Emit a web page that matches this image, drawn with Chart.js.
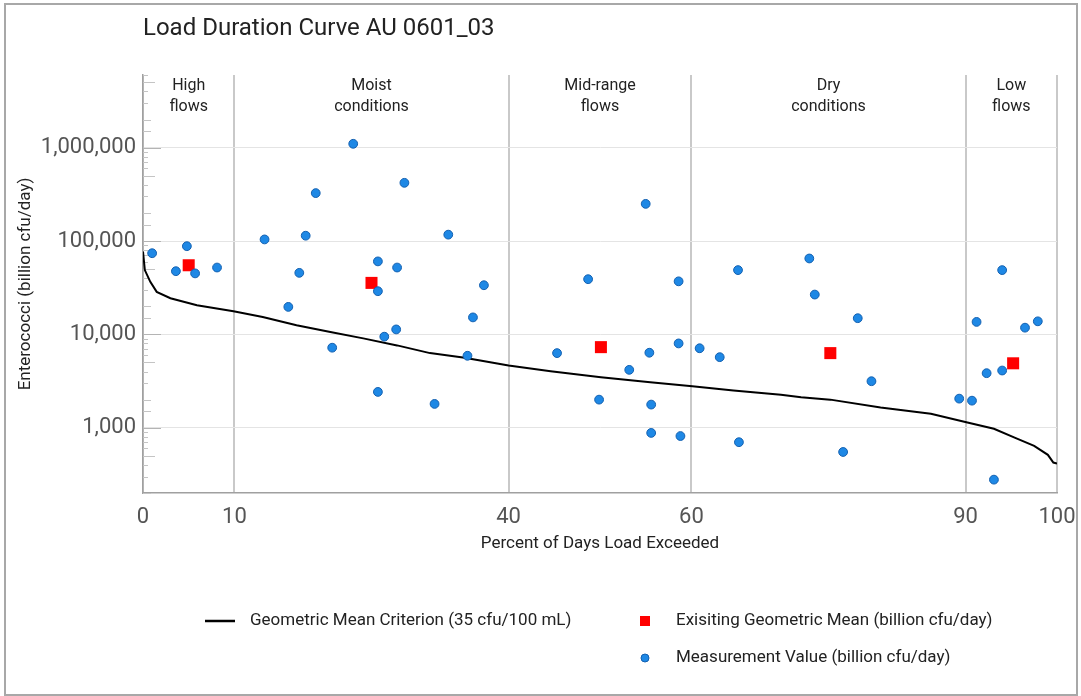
<!DOCTYPE html>
<html>
<head>
<meta charset="utf-8">
<title>Load Duration Curve AU 0601_03</title>
<script src="https://cdn.jsdelivr.net/npm/chart.js@4.4.1/dist/chart.umd.min.js"></script>
<style>
  html, body { margin: 0; padding: 0; background: #fff; }
  #wrap { position: relative; width: 1081px; height: 696px; }
  #frame { position: absolute; left: 4px; top: 3px; width: 1070px; height: 689px;
           border: 2px solid #a8a8a8; pointer-events: none; }
</style>
</head>
<body>
<div id="wrap">
  <canvas id="ldc" width="1081" height="696"></canvas>
  <div id="frame"></div>
</div>
<script>
// Flow-duration zones (percent of days exceeded) and their labels.
const zoneBreaks = [0, 10, 40, 60, 90, 100];
const zoneLabels = [["High", "flows"], ["Moist", "conditions"], ["Mid-range", "flows"],
                    ["Dry", "conditions"], ["Low", "flows"]];

// Allowable load curve (geometric mean criterion).
const curvePct  = [0, 0.2, 0.8, 1.5, 3, 5.9, 9.9, 13.1, 16.8, 20.5, 24.1, 27.8, 31.4, 35, 36.9,
                   40, 44.6, 50.1, 55.5, 60.1, 64.6, 69.8, 72, 75.2, 80.7, 86.2, 90.2, 93.1,
                   95.3, 97.5, 99, 99.6, 100];
const curveLoad = [77000, 48800, 36500, 28500, 24400, 20500, 17700, 15350, 12500, 10600, 9060,
                   7620, 6300, 5660, 5250, 4640, 4030, 3470, 3070, 2780, 2500, 2260, 2120, 2000,
                   1650, 1415, 1140, 975, 787, 640, 513, 424, 414];

// Existing geometric mean per zone.
const gmPct  = [5, 25, 50.1, 75.2, 95.2];
const gmLoad = [55000, 35600, 7300, 6300, 4900];

// Individual measurements.
const measPct  = [1.0, 3.6, 4.8, 5.7, 8.1, 13.3, 15.9, 17.1, 17.8, 18.9, 20.7, 23.0, 25.7, 25.7,
                  25.7, 26.4, 27.7, 27.8, 28.6, 31.9, 33.4, 35.5, 36.1, 37.3, 45.3, 48.7, 49.9,
                  53.2, 55.0, 55.4, 55.6, 55.6, 58.6, 58.6, 58.8, 60.9, 63.1, 65.1, 65.2, 72.9,
                  73.5, 76.6, 78.2, 79.7, 89.3, 90.7, 91.2, 92.3, 93.1, 94.0, 94.0, 96.5, 97.9];
const measLoad = [74000, 47500, 88000, 45000, 52000, 104000, 19700, 45600, 114000, 326000, 7200,
                  1100000, 60500, 29000, 2420, 9450, 11300, 52000, 420000, 1800, 117000, 5900,
                  15200, 33600, 6300, 39000, 2000, 4170, 250000, 6360, 1770, 880, 37000, 8000,
                  815, 7100, 5700, 48800, 700, 65000, 26700, 550, 14900, 3150, 2050, 1950, 13600,
                  3840, 278, 4100, 48800, 11800, 13800];

const FONT = "Roboto";
const INK = "#222";
const TICK_INK = "#555";

const pairs = (xs, ys) => xs.map((x, i) => ({ x, y: ys[i] }));
const isPow10 = v => Math.abs(Math.log10(v) - Math.round(Math.log10(v))) < 1e-9;

// Title, zone captions, inside minor ticks and the two-column legend.
const decorations = {
  id: "decorations",
  beforeDatasetsDraw(chart) {
    const { ctx, chartArea, scales: { y } } = chart;
    ctx.save();
    ctx.lineWidth = 1;
    y.ticks.forEach(t => {
      const py = Math.round(y.getPixelForValue(t.value)) + 0.5;
      const m = Math.round(t.value / Math.pow(10, Math.floor(Math.log10(t.value) + 1e-9)));
      const len = m === 1 ? 18 : m === 5 ? 12 : m === 2 ? 8 : 5;
      ctx.strokeStyle = m === 1 ? "#b4b4b4" : "#c4c4c4";
      ctx.beginPath();
      ctx.moveTo(chartArea.left, py);
      ctx.lineTo(chartArea.left + len, py);
      ctx.stroke();
    });
    ctx.restore();
  },
  afterDraw(chart) {
    const { ctx, chartArea, scales: { x } } = chart;
    ctx.save();
    ctx.fillStyle = INK;
    ctx.textBaseline = "middle";

    ctx.font = `24px ${FONT}`;
    ctx.textAlign = "left";
    ctx.fillText("Load Duration Curve AU 0601_03", chartArea.left, 29);

    ctx.font = `16px ${FONT}`;
    ctx.textAlign = "center";
    zoneLabels.forEach((lines, i) => {
      const cx = x.getPixelForValue((zoneBreaks[i] + zoneBreaks[i + 1]) / 2);
      lines.forEach((s, j) => ctx.fillText(s, cx, 86 + j * 21));
    });

    // legend
    const ds = chart.data.datasets;
    const items = [
      { d: ds[2], kind: "line", x: 205, y: 621 },
      { d: ds[1], kind: "rect", x: 645, y: 621 },
      { d: ds[0], kind: "circle", x: 645, y: 658 },
    ];
    ctx.font = `17px ${FONT}`;
    ctx.textAlign = "left";
    items.forEach(it => {
      if (it.kind === "line") {
        ctx.strokeStyle = it.d.borderColor;
        ctx.lineWidth = 2.5;
        ctx.beginPath();
        ctx.moveTo(it.x, it.y);
        ctx.lineTo(it.x + 30, it.y);
        ctx.stroke();
        ctx.fillStyle = INK;
        ctx.fillText(it.d.label, it.x + 45, it.y);
      } else {
        ctx.fillStyle = it.d.backgroundColor;
        if (it.kind === "rect") {
          ctx.fillRect(it.x - 5, it.y - 5, 10, 10);
        } else {
          ctx.beginPath();
          ctx.arc(it.x, it.y, 4, 0, Math.PI * 2);
          ctx.fill();
          ctx.strokeStyle = it.d.borderColor;
          ctx.lineWidth = 1;
          ctx.stroke();
        }
        ctx.fillStyle = INK;
        ctx.fillText(it.d.label, it.x + 31, it.y);
      }
    });
    ctx.restore();
  },
};

new Chart(document.getElementById("ldc"), {
  type: "scatter",
  data: {
    datasets: [
      {
        label: "Measurement Value (billion cfu/day)",
        data: pairs(measPct, measLoad),
        pointStyle: "circle",
        pointRadius: 4.4,
        backgroundColor: "#1e88e5",
        borderColor: "#1360b0",
        borderWidth: 1,
      },
      {
        label: "Exisiting Geometric Mean (billion cfu/day)",
        data: pairs(gmPct, gmLoad),
        pointStyle: "rect",
        pointRadius: 8.5,
        backgroundColor: "#ff0000",
        borderColor: "#ff0000",
        borderWidth: 0,
      },
      {
        label: "Geometric Mean Criterion (35 cfu/100 mL)",
        data: pairs(curvePct, curveLoad),
        showLine: true,
        pointRadius: 0,
        borderColor: "#000",
        borderWidth: 2,
        tension: 0,
      },
    ],
  },
  options: {
    responsive: false,
    animation: false,
    layout: { padding: { top: 75, right: 24, left: 0, bottom: 0 } },
    plugins: { legend: { display: false }, tooltip: { enabled: false } },
    scales: {
      x: {
        type: "linear",
        min: 0,
        max: 100,
        afterBuildTicks: s => { s.ticks = zoneBreaks.map(v => ({ value: v })); },
        // fixed band below the plot; end labels may overhang the edges
        afterFit: s => { s.height = 203; s.paddingLeft = 0; s.paddingRight = 0; },
        ticks: { padding: 11, color: TICK_INK, font: { family: FONT, size: 22 } },
        grid: { color: "#c9c9c9", lineWidth: 2, drawTicks: false },
        border: { display: true, color: "#a0a0a0", width: 1.5 },
        title: {
          display: true,
          text: "Percent of Days Load Exceeded",
          color: INK,
          font: { family: FONT, size: 17 },
          padding: { top: 0, bottom: 142 },
        },
      },
      y: {
        type: "logarithmic",
        min: 200,
        max: 6000000,
        afterFit: s => { s.width = 143; s.paddingTop = 0; s.paddingBottom = 0; },
        ticks: {
          autoSkip: false,
          padding: 7,
          color: TICK_INK,
          font: { family: FONT, size: 22 },
          callback: v => (isPow10(v) ? Number(v).toLocaleString("en-US") : ""),
        },
        grid: {
          drawTicks: false,
          lineWidth: 1,
          color: c => (c.tick && isPow10(c.tick.value) ? "#e4e4e4" : "rgba(0,0,0,0)"),
        },
        border: { display: true, color: "#a0a0a0", width: 1.5 },
        title: {
          display: true,
          text: "Enterococci (billion cfu/day)",
          color: INK,
          font: { family: FONT, size: 17 },
          padding: { top: 16, bottom: 0 },
        },
      },
    },
  },
  plugins: [decorations],
});
</script>
</body>
</html>
